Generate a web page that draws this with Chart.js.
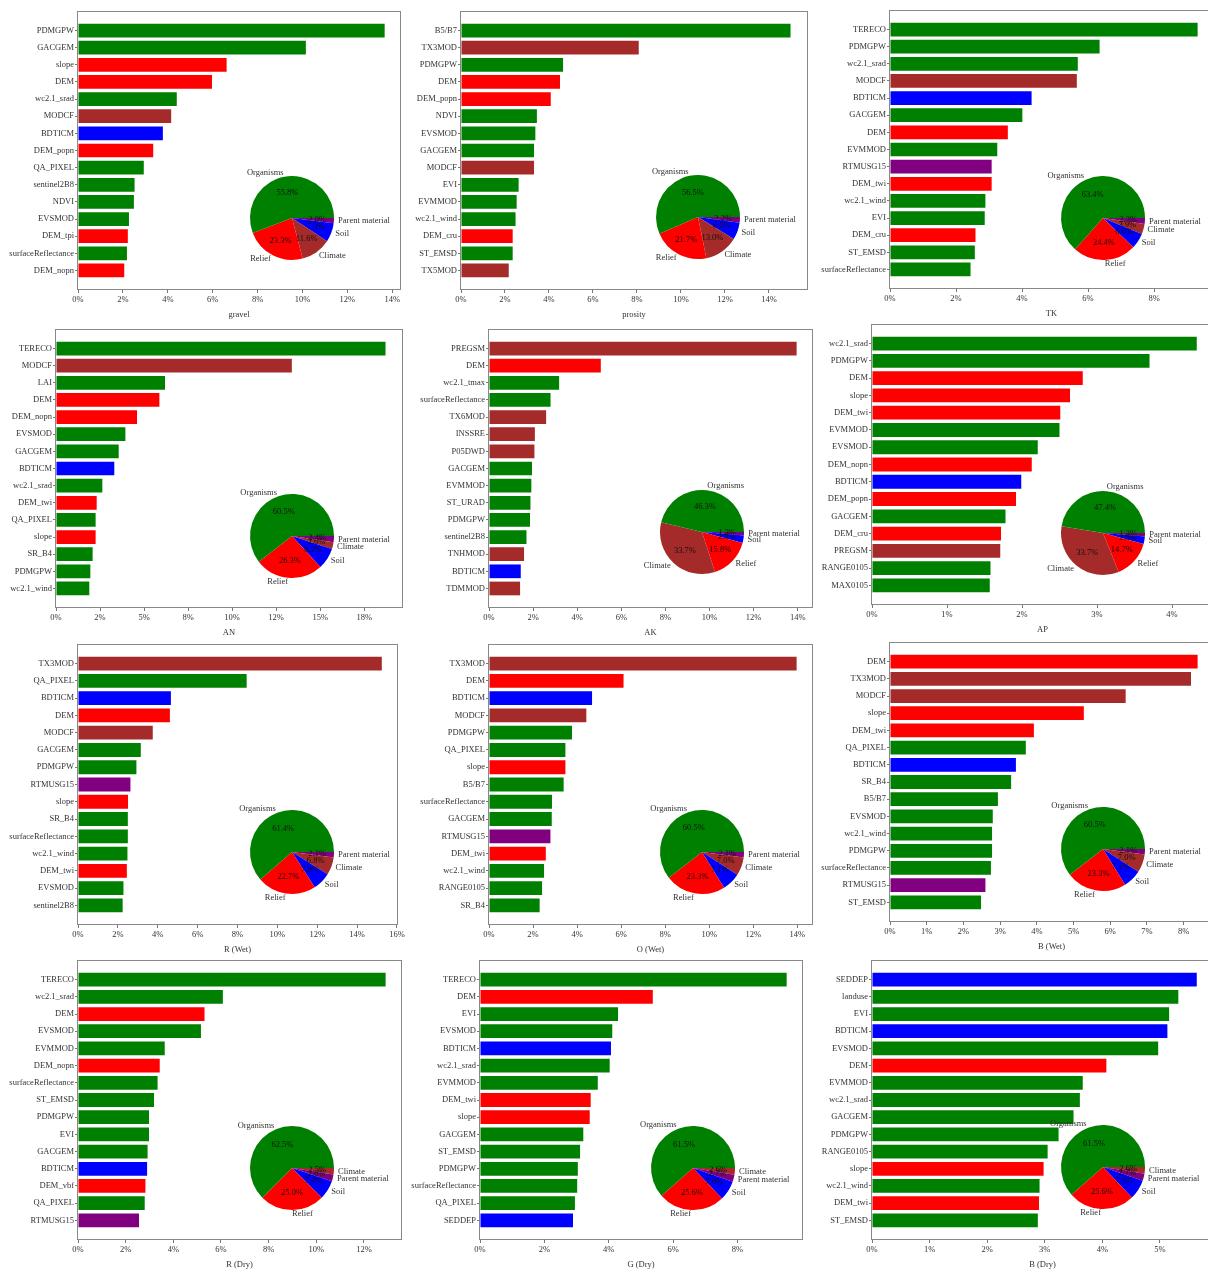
<!DOCTYPE html>
<html><head><meta charset="utf-8">
<script src="https://cdn.jsdelivr.net/npm/chart.js@4.4.1/dist/chart.umd.min.js"></script>
<style>
html,body{margin:0;padding:0;background:#fff;width:1208px;height:1272px;overflow:hidden;position:relative}
canvas{position:absolute}
</style></head><body>
<script>
// ---------- DATA ----------
// factor codes: O=Organisms, R=Relief, C=Climate, S=Soil, P=Parent material
const p1Title = 'gravel';
const p1Cats = ['PDMGPW','GACGEM','slope','DEM','wc2.1_srad','MODCF','BDTICM','DEM_popn','QA_PIXEL','sentinel2B8','NDVI','EVSMOD','DEM_tpi','surfaceReflectance','DEM_nopn'];
const p1Vals = [13.66,10.15,6.62,5.97,4.40,4.15,3.78,3.35,2.93,2.52,2.49,2.27,2.22,2.18,2.06];
const p1Types = ['O','O','R','R','O','C','S','R','O','O','O','O','R','O','R'];
const p1PieLabels = ['Organisms','Relief','Climate','Soil','Parent material'];
const p1PieVals = [55.8,23.3,11.6,7.3,2.0];
const p1Ticks = [0,2,4,6,8,10,12,14];
const p1TickLabels = ['0%','2%','4%','6%','8%','10%','12%','14%'];

const p2Title = 'prosity';
const p2Cats = ['B5/B7','TX3MOD','PDMGPW','DEM','DEM_popn','NDVI','EVSMOD','GACGEM','MODCF','EVI','EVMMOD','wc2.1_wind','DEM_cru','ST_EMSD','TX5MOD'];
const p2Vals = [14.98,8.08,4.64,4.50,4.08,3.45,3.38,3.32,3.32,2.62,2.53,2.48,2.35,2.35,2.17];
const p2Types = ['O','C','O','R','R','O','O','O','C','O','O','O','R','O','C'];
const p2PieLabels = ['Organisms','Relief','Climate','Soil','Parent material'];
const p2PieVals = [56.5,21.7,13.0,6.6,2.2];
const p2Ticks = [0,2,4,6,8,10,12,14];
const p2TickLabels = ['0%','2%','4%','6%','8%','10%','12%','14%'];

const p3Title = 'TK';
const p3Cats = ['TERECO','PDMGPW','wc2.1_srad','MODCF','BDTICM','GACGEM','DEM','EVMMOD','RTMUSG15','DEM_twi','wc2.1_wind','EVI','DEM_cru','ST_EMSD','surfaceReflectance'];
const p3Vals = [9.32,6.35,5.69,5.66,4.29,4.01,3.57,3.25,3.08,3.08,2.89,2.87,2.59,2.57,2.44];
const p3Types = ['O','O','O','C','S','O','R','O','P','R','O','O','R','O','O'];
const p3PieLabels = ['Organisms','Relief','Soil','Climate','Parent material'];
const p3PieVals = [63.4,24.4,6.0,3.9,2.3];
const p3Ticks = [0,2,4,6,8];
const p3TickLabels = ['0%','2%','4%','6%','8%'];

const p4Title = 'AN';
const p4Cats = ['TERECO','MODCF','LAI','DEM','DEM_nopn','EVSMOD','GACGEM','BDTICM','wc2.1_srad','DEM_twi','QA_PIXEL','slope','SR_B4','PDMGPW','wc2.1_wind'];
const p4Vals = [18.71,13.39,6.19,5.87,4.60,3.94,3.56,3.31,2.63,2.31,2.25,2.25,2.08,1.95,1.89];
const p4Types = ['O','C','O','R','R','O','O','S','O','R','O','R','O','O','O'];
const p4PieLabels = ['Organisms','Relief','Soil','Climate','Parent material'];
const p4PieVals = [60.5,26.3,8.2,2.6,2.4];
const p4Ticks = [0,2.5,5,7.5,10,12.5,15,17.5];
const p4TickLabels = ['0%','2%','5%','8%','10%','12%','15%','18%'];

const p5Title = 'AK';
const p5Cats = ['PREGSM','DEM','wc2.1_tmax','surfaceReflectance','TX6MOD','INSSRE','P05DWD','GACGEM','EVMMOD','ST_URAD','PDMGPW','sentinel2B8','TNHMOD','BDTICM','TDMMOD'];
const p5Vals = [13.95,5.07,3.18,2.79,2.59,2.08,2.06,1.95,1.92,1.88,1.86,1.70,1.59,1.44,1.41];
const p5Types = ['C','R','O','O','C','C','C','O','O','O','O','O','C','S','C'];
const p5PieLabels = ['Organisms','Climate','Relief','Soil','Parent material'];
const p5PieVals = [46.3,33.7,15.8,2.9,1.3];
const p5Ticks = [0,2,4,6,8,10,12,14];
const p5TickLabels = ['0%','2%','4%','6%','8%','10%','12%','14%'];

const p6Title = 'AP';
const p6Cats = ['wc2.1_srad','PDMGPW','DEM','slope','DEM_twi','EVMMOD','EVSMOD','DEM_nopn','BDTICM','DEM_popn','GACGEM','DEM_cru','PREGSM','RANGE0105','MAX0105'];
const p6Vals = [4.33,3.70,2.81,2.64,2.51,2.50,2.21,2.13,1.99,1.92,1.78,1.72,1.71,1.58,1.57];
const p6Types = ['O','O','R','R','R','O','O','R','S','R','O','R','C','O','O'];
const p6PieLabels = ['Organisms','Climate','Relief','Soil','Parent material'];
const p6PieVals = [47.4,33.7,14.7,2.9,1.3];
const p6Ticks = [0,1,2,3,4];
const p6TickLabels = ['0%','1%','2%','3%','4%'];

const p7Title = 'R (Wet)';
const p7Cats = ['TX3MOD','QA_PIXEL','BDTICM','DEM','MODCF','GACGEM','PDMGPW','RTMUSG15','slope','SR_B4','surfaceReflectance','wc2.1_wind','DEM_twi','EVSMOD','sentinel2B8'];
const p7Vals = [15.24,8.46,4.66,4.61,3.75,3.15,2.93,2.63,2.51,2.50,2.50,2.48,2.45,2.28,2.24];
const p7Types = ['C','O','S','R','C','O','O','P','R','O','O','O','R','O','O'];
const p7PieLabels = ['Organisms','Relief','Soil','Climate','Parent material'];
const p7PieVals = [61.4,22.7,7.0,6.8,2.1];
const p7Ticks = [0,2,4,6,8,10,12,14,16];
const p7TickLabels = ['0%','2%','4%','6%','8%','10%','12%','14%','16%'];

const p8Title = 'O (Wet)';
const p8Cats = ['TX3MOD','DEM','BDTICM','MODCF','PDMGPW','QA_PIXEL','slope','B5/B7','surfaceReflectance','GACGEM','RTMUSG15','DEM_twi','wc2.1_wind','RANGE0105','SR_B4'];
const p8Vals = [13.97,6.11,4.68,4.42,3.77,3.47,3.47,3.39,2.86,2.85,2.79,2.58,2.50,2.41,2.30];
const p8Types = ['C','R','S','C','O','O','R','O','O','O','P','R','O','O','O'];
const p8PieLabels = ['Organisms','Relief','Soil','Climate','Parent material'];
const p8PieVals = [60.5,23.3,7.1,7.0,2.1];
const p8Ticks = [0,2,4,6,8,10,12,14];
const p8TickLabels = ['0%','2%','4%','6%','8%','10%','12%','14%'];

const p9Title = 'B (Wet)';
const p9Cats = ['DEM','TX3MOD','MODCF','slope','DEM_twi','QA_PIXEL','BDTICM','SR_B4','B5/B7','EVSMOD','wc2.1_wind','PDMGPW','surfaceReflectance','RTMUSG15','ST_EMSD'];
const p9Vals = [8.38,8.20,6.42,5.28,3.92,3.70,3.43,3.30,2.94,2.80,2.78,2.78,2.75,2.60,2.48];
const p9Types = ['R','C','C','R','R','O','S','O','O','O','O','O','O','P','O'];
const p9PieLabels = ['Organisms','Relief','Soil','Climate','Parent material'];
const p9PieVals = [60.5,23.3,7.1,7.0,2.1];
const p9Ticks = [0,1,2,3,4,5,6,7,8];
const p9TickLabels = ['0%','1%','2%','3%','4%','5%','6%','7%','8%'];

const p10Title = 'R (Dry)';
const p10Cats = ['TERECO','wc2.1_srad','DEM','EVSMOD','EVMMOD','DEM_nopn','surfaceReflectance','ST_EMSD','PDMGPW','EVI','GACGEM','BDTICM','DEM_vbf','QA_PIXEL','RTMUSG15'];
const p10Vals = [12.91,6.08,5.31,5.16,3.64,3.43,3.34,3.19,2.98,2.98,2.92,2.90,2.83,2.80,2.56];
const p10Types = ['O','O','R','O','O','R','O','O','O','O','O','S','R','O','P'];
const p10PieLabels = ['Organisms','Relief','Soil','Parent material','Climate'];
const p10PieVals = [62.5,25.0,7.4,2.6,2.5];
const p10Ticks = [0,2,4,6,8,10,12];
const p10TickLabels = ['0%','2%','4%','6%','8%','10%','12%'];

const p11Title = 'G (Dry)';
const p11Cats = ['TERECO','DEM','EVI','EVSMOD','BDTICM','wc2.1_srad','EVMMOD','DEM_twi','slope','GACGEM','ST_EMSD','PDMGPW','surfaceReflectance','QA_PIXEL','SEDDEP'];
const p11Vals = [9.53,5.37,4.29,4.11,4.07,4.03,3.66,3.44,3.41,3.21,3.11,3.04,3.02,2.95,2.89];
const p11Types = ['O','R','O','O','S','O','O','R','R','O','O','O','O','O','S'];
const p11PieLabels = ['Organisms','Relief','Soil','Parent material','Climate'];
const p11PieVals = [61.5,25.6,7.6,2.7,2.6];
const p11Ticks = [0,2,4,6,8];
const p11TickLabels = ['0%','2%','4%','6%','8%'];

const p12Title = 'B (Dry)';
const p12Cats = ['SEDDEP','landuse','EVI','BDTICM','EVSMOD','DEM','EVMMOD','wc2.1_srad','GACGEM','PDMGPW','RANGE0105','slope','wc2.1_wind','DEM_twi','ST_EMSD'];
const p12Vals = [5.64,5.32,5.16,5.13,4.97,4.07,3.66,3.61,3.50,3.24,3.05,2.98,2.91,2.90,2.88];
const p12Types = ['S','O','O','S','O','R','O','O','O','O','O','R','O','R','O'];
const p12PieLabels = ['Organisms','Relief','Soil','Parent material','Climate'];
const p12PieVals = [61.5,25.6,7.6,2.7,2.6];
const p12Ticks = [0,1,2,3,4,5];
const p12TickLabels = ['0%','1%','2%','3%','4%','5%'];

// ---------- STYLE / LAYOUT ----------
const TYPE_COLORS = {O:'#008000', R:'#ff0000', C:'#a52a2a', S:'#0000ff', P:'#800080'};
const PIE_COLORS = {'Organisms':'#008000','Relief':'#ff0000','Climate':'#a52a2a','Soil':'#0000ff','Parent material':'#800080'};

const panels = [
  {title:p1Title,cats:p1Cats,vals:p1Vals,types:p1Types,pieLabels:p1PieLabels,pieVals:p1PieVals,ticks:p1Ticks,tickLabels:p1TickLabels},
  {title:p2Title,cats:p2Cats,vals:p2Vals,types:p2Types,pieLabels:p2PieLabels,pieVals:p2PieVals,ticks:p2Ticks,tickLabels:p2TickLabels},
  {title:p3Title,cats:p3Cats,vals:p3Vals,types:p3Types,pieLabels:p3PieLabels,pieVals:p3PieVals,ticks:p3Ticks,tickLabels:p3TickLabels},
  {title:p4Title,cats:p4Cats,vals:p4Vals,types:p4Types,pieLabels:p4PieLabels,pieVals:p4PieVals,ticks:p4Ticks,tickLabels:p4TickLabels},
  {title:p5Title,cats:p5Cats,vals:p5Vals,types:p5Types,pieLabels:p5PieLabels,pieVals:p5PieVals,ticks:p5Ticks,tickLabels:p5TickLabels},
  {title:p6Title,cats:p6Cats,vals:p6Vals,types:p6Types,pieLabels:p6PieLabels,pieVals:p6PieVals,ticks:p6Ticks,tickLabels:p6TickLabels},
  {title:p7Title,cats:p7Cats,vals:p7Vals,types:p7Types,pieLabels:p7PieLabels,pieVals:p7PieVals,ticks:p7Ticks,tickLabels:p7TickLabels},
  {title:p8Title,cats:p8Cats,vals:p8Vals,types:p8Types,pieLabels:p8PieLabels,pieVals:p8PieVals,ticks:p8Ticks,tickLabels:p8TickLabels},
  {title:p9Title,cats:p9Cats,vals:p9Vals,types:p9Types,pieLabels:p9PieLabels,pieVals:p9PieVals,ticks:p9Ticks,tickLabels:p9TickLabels},
  {title:p10Title,cats:p10Cats,vals:p10Vals,types:p10Types,pieLabels:p10PieLabels,pieVals:p10PieVals,ticks:p10Ticks,tickLabels:p10TickLabels},
  {title:p11Title,cats:p11Cats,vals:p11Vals,types:p11Types,pieLabels:p11PieLabels,pieVals:p11PieVals,ticks:p11Ticks,tickLabels:p11TickLabels},
  {title:p12Title,cats:p12Cats,vals:p12Vals,types:p12Types,pieLabels:p12PieLabels,pieVals:p12PieVals,ticks:p12Ticks,tickLabels:p12TickLabels}
];

// plot-area boxes (left, right, top, bottom) and pie centers, in page pixels
const geometry = [
  {L:78,R:400,T:11,B:290,cx:292,cy:218},
  {L:461,R:807,T:11,B:290,cx:698,cy:217},
  {L:890,R:1213,T:10,B:289,cx:1103,cy:218},
  {L:56,R:402,T:329,B:608,cx:292,cy:536},
  {L:489,R:812,T:329,B:608,cx:702,cy:532},
  {L:872,R:1213,T:324,B:605,cx:1103,cy:533},
  {L:78,R:397,T:644,B:925,cx:292,cy:852},
  {L:489,R:812,T:644,B:925,cx:702,cy:852},
  {L:890,R:1213,T:642,B:922,cx:1103,cy:849},
  {L:78,R:401,T:960,B:1240,cx:292,cy:1168},
  {L:480,R:802,T:960,B:1240,cx:693,cy:1168},
  {L:872,R:1213,T:960,B:1240,cx:1103,cy:1167}
];
const PIE_R = 42;
const FONT = {family:'"Liberation Serif", "Times New Roman", serif', size:8.5};

Chart.defaults.font.family = FONT.family;
Chart.defaults.font.size = FONT.size;
Chart.defaults.color = '#333';

const framePlugin = {
  id:'frame',
  afterDraw(chart){
    const a = chart.chartArea, ctx = chart.ctx;
    ctx.save();
    ctx.strokeStyle = '#888';
    ctx.lineWidth = 1;
    ctx.strokeRect(Math.round(a.left)-0.5, Math.round(a.top)+0.5, Math.round(a.right-a.left)+1, Math.round(a.bottom-a.top)-1);
    ctx.restore();
  }
};

const pieLabelPlugin = {
  id:'pieLabels',
  afterDatasetsDraw(chart){
    const ctx = chart.ctx;
    const meta = chart.getDatasetMeta(0);
    const ds = chart.data.datasets[0];
    ctx.save();
    ctx.font = FONT.size + 'px ' + FONT.family;
    ctx.textBaseline = 'middle';
    meta.data.forEach((arc, i) => {
      const p = arc.getProps(['x','y','startAngle','endAngle','outerRadius'], true);
      const mid = (p.startAngle + p.endAngle) / 2;
      const cos = Math.cos(mid), sin = Math.sin(mid);
      const lx = p.x + 1.1 * p.outerRadius * cos, ly = p.y + 1.1 * p.outerRadius * sin;
      ctx.fillStyle = '#333';
      ctx.textAlign = cos > 0 ? 'left' : 'right';
      ctx.fillText(chart.data.labels[i], lx, ly);
      ctx.fillStyle = '#111';
      ctx.textAlign = 'center';
      ctx.fillText(ds.data[i].toFixed(1) + '%', p.x + 0.6 * p.outerRadius * cos, p.y + 0.6 * p.outerRadius * sin);
    });
    ctx.restore();
  }
};

function gridOpts(){
  return {drawOnChartArea:false, drawTicks:true, tickLength:3, color:'#777', lineWidth:1, offset:false};
}

function makeBar(p, g){
  const padL = 82, padT = 8, padR = 14, axH = 30;
  const c = document.createElement('canvas');
  c.width = g.R - g.L + padL + padR;
  c.height = g.B - g.T + padT + axH;
  c.style.left = (g.L - padL) + 'px';
  c.style.top = (g.T - padT) + 'px';
  document.body.appendChild(c);
  const n = p.cats.length;
  const m = 0.05 * (n - 1 + 0.8);
  const vmax = Math.max(...p.vals);
  new Chart(c, {
    type:'bar',
    data:{datasets:[{
      data:p.vals.map((v,i)=>({x:v, y:i})),
      backgroundColor:p.types.map(t=>TYPE_COLORS[t]),
      borderWidth:0, barPercentage:0.8, categoryPercentage:1
    }]},
    options:{
      indexAxis:'y', responsive:false, animation:false, devicePixelRatio:1,
      layout:{padding:{left:0, top:padT, right:padR, bottom:0}},
      plugins:{legend:{display:false}, tooltip:{enabled:false}},
      scales:{
        y:{
          type:'linear', reverse:true, offset:false, min:-0.4 - m, max:n - 1 + 0.4 + m,
          afterFit:s=>{ s.width = padL; },
          afterBuildTicks:s=>{ s.ticks = p.cats.map((_,i)=>({value:i})); },
          ticks:{autoSkip:false, padding:1, color:'#333', callback:v=>p.cats[v]},
          grid:gridOpts(), border:{display:false}
        },
        x:{
          type:'linear', offset:false, min:0, max:vmax * 1.05,
          afterFit:s=>{ s.height = axH; },
          afterBuildTicks:s=>{ s.ticks = p.ticks.map(v=>({value:v})); },
          ticks:{autoSkip:false, maxRotation:0, padding:2, color:'#333', callback:(v,i)=>p.tickLabels[i]},
          grid:gridOpts(), border:{display:false},
          title:{display:true, text:p.title, color:'#333', padding:{top:0, bottom:0}}
        }
      }
    },
    plugins:[framePlugin]
  });
}

function makePie(p, g){
  const W = 250, H = 130;
  const c = document.createElement('canvas');
  c.width = W; c.height = H;
  c.style.left = (g.cx - W/2) + 'px';
  c.style.top = (g.cy - H/2) + 'px';
  document.body.appendChild(c);
  // Chart.js draws clockwise; matplotlib draws counter-clockwise from 3 o'clock -> reverse order
  const labels = p.pieLabels.slice().reverse();
  const vals = p.pieVals.slice().reverse();
  new Chart(c, {
    type:'pie',
    data:{labels:labels, datasets:[{data:vals, backgroundColor:labels.map(l=>PIE_COLORS[l]), borderWidth:0}]},
    options:{
      responsive:false, animation:false, devicePixelRatio:1,
      radius:PIE_R, rotation:90,
      layout:{padding:0},
      plugins:{legend:{display:false}, tooltip:{enabled:false}}
    },
    plugins:[pieLabelPlugin]
  });
}

panels.forEach((p, i) => { makeBar(p, geometry[i]); });
panels.forEach((p, i) => { makePie(p, geometry[i]); });
</script>
</body></html>
